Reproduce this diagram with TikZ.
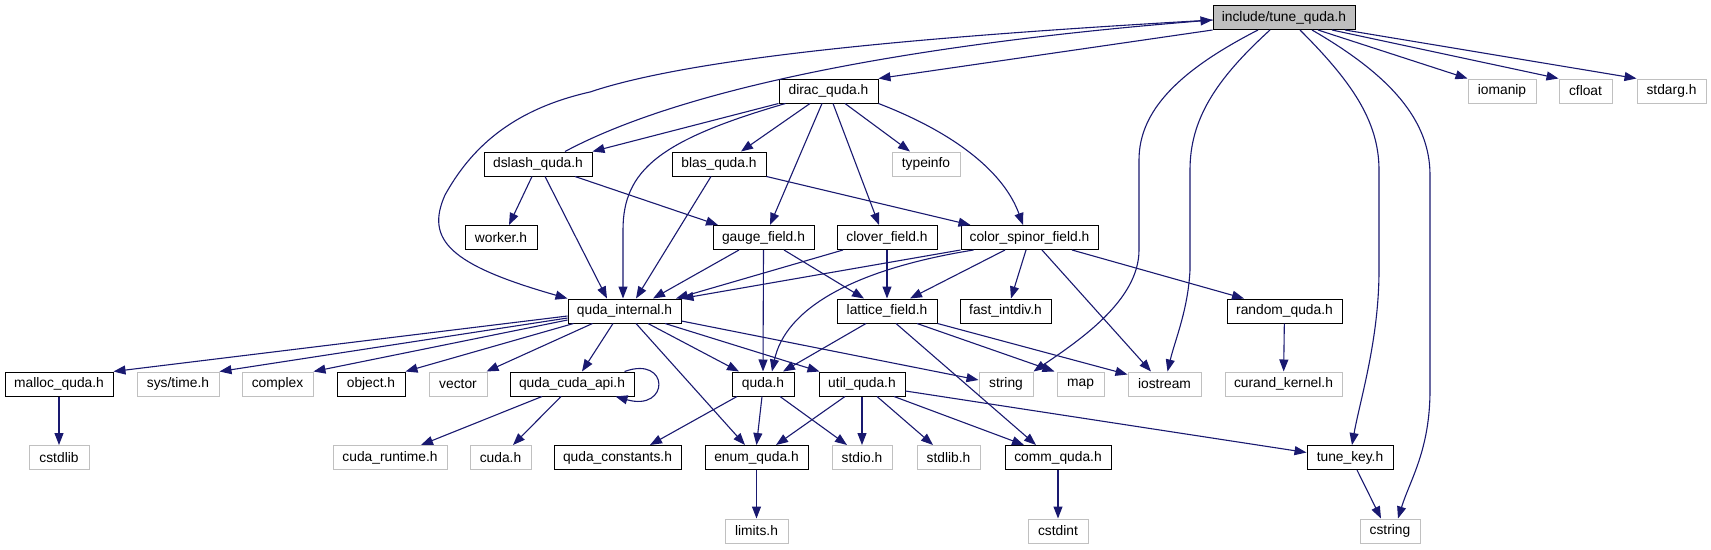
\documentclass[tikz,border=0pt]{standalone}
\usepackage{fontspec}
\setmainfont{Liberation Sans}
\usetikzlibrary{arrows.meta}
\definecolor{edgec}{HTML}{191970}
\definecolor{grayb}{HTML}{C0C0C0}
\definecolor{fillg}{HTML}{BFBFBF}
\begin{document}
\begin{tikzpicture}[x=1pt,y=1pt,
  box/.style={draw=black, line width=1pt, rectangle, minimum height=24pt, inner sep=0pt, font=\fontsize{13.8}{16}\selectfont},
  ext/.style={box, draw=grayb},
  arr/.style={draw=edgec, line width=1.1pt, -{Triangle[length=12pt,width=9pt]}}]
\useasboundingbox (0,0) rectangle (1711,-549);
% row 0
\node[box, fill=fillg, minimum width=142pt] (T) at (1284,-17.5) {include/tune\_quda.h};
% row 1
\node[box, minimum width=99pt] (D) at (828.5,-91) {dirac\_quda.h};
\node[ext, minimum width=68pt] (iom) at (1502,-91) {iomanip};
\node[ext, minimum width=53pt] (cfl) at (1585.5,-91) {cfloat};
\node[ext, minimum width=69pt] (sta) at (1671.5,-91) {stdarg.h};
% row 2
\node[box, minimum width=108pt] (S) at (538,-164) {dslash\_quda.h};
\node[box, minimum width=94pt] (B) at (719,-164) {blas\_quda.h};
\node[ext, minimum width=68pt] (typ) at (926,-164) {typeinfo};
% row 3
\node[box, minimum width=72pt] (wrk) at (501,-237.5) {worker.h};
\node[box, minimum width=101pt] (G) at (763.5,-237.5) {gauge\_field.h};
\node[box, minimum width=100pt] (C) at (887,-237.5) {clover\_field.h};
\node[box, minimum width=137pt] (CS) at (1029.5,-237.5) {color\_spinor\_field.h};
% row 4
\node[box, minimum width=113pt] (Q) at (624.5,-311) {quda\_internal.h};
\node[box, minimum width=100pt] (L) at (887,-311) {lattice\_field.h};
\node[box, minimum width=91pt] (fid) at (1005.5,-311) {fast\_intdiv.h};
\node[box, minimum width=115pt] (rnd) at (1284.5,-311) {random\_quda.h};
% row 5
\node[box, minimum width=108pt] (mal) at (59,-384) {malloc\_quda.h};
\node[ext, minimum width=82pt] (syt) at (178,-384) {sys/time.h};
\node[ext, minimum width=71pt] (cpx) at (277.5,-384) {complex};
\node[box, minimum width=68pt] (obj) at (371,-384) {object.h};
\node[ext, minimum width=58pt] (vec) at (458,-384) {vector};
\node[box, minimum width=124pt] (A) at (572,-384) {quda\_cuda\_api.h};
\node[box, minimum width=62pt] (QH) at (763,-384) {quda.h};
\node[box, minimum width=86pt] (U) at (862,-384) {util\_quda.h};
\node[ext, minimum width=54pt] (str) at (1006,-384) {string};
\node[ext, minimum width=47pt] (map) at (1080.5,-384) {map};
\node[ext, minimum width=73pt] (ios) at (1164.5,-384) {iostream};
\node[ext, minimum width=117pt] (cur) at (1283.5,-384) {curand\_kernel.h};
% row 6
\node[ext, minimum width=60pt] (csl) at (59,-457.5) {cstdlib};
\node[ext, minimum width=114pt] (crt) at (390,-457.5) {cuda\_runtime.h};
\node[ext, minimum width=61pt] (cuh) at (500.5,-457.5) {cuda.h};
\node[box, minimum width=127pt] (qc) at (617.5,-457.5) {quda\_constants.h};
\node[box, minimum width=103pt] (enm) at (756.5,-457.5) {enum\_quda.h};
\node[ext, minimum width=60pt] (sio) at (862,-457.5) {stdio.h};
\node[ext, minimum width=63pt] (slb) at (948.5,-457.5) {stdlib.h};
\node[box, minimum width=106pt] (com) at (1058,-457.5) {comm\_quda.h};
\node[box, minimum width=86pt] (tk) at (1350,-457.5) {tune\_key.h};
% row 7
\node[ext, minimum width=63pt] (lim) at (756.5,-531) {limits.h};
\node[ext, minimum width=60pt] (cst) at (1058,-531) {cstdint};
\node[ext, minimum width=60pt] (cstr) at (1390,-531) {cstring};

% edges from tune_quda
\draw[arr] (T.south west) -- (D.north east);
\draw[arr] ([xshift=34pt]T.south) -- (iom.north west);
\draw[arr] ([xshift=48pt]T.south) -- (cfl.north west);
\draw[arr] ([xshift=61pt]T.south) -- (sta.north west);
\draw[arr] ([xshift=-26pt]T.south) .. controls (1180,-70) and (1139,-110) .. (1139,-160) -- (1139,-250) .. controls (1139,-300) and (1080,-340) .. (str.north east);
\draw[arr] ([xshift=-14pt]T.south) .. controls (1215,-80) and (1190,-120) .. (1190,-170) -- (1190,-270) .. controls (1188,-310) and (1175,-340) .. ([xshift=3pt]ios.north);
\draw[arr] ([xshift=16pt]T.south) .. controls (1350,-80) and (1379,-120) .. (1379,-170) -- (1379,-270) .. controls (1379,-340) and (1360,-400) .. ([xshift=2pt]tk.north);
\draw[arr] ([xshift=28pt]T.south) .. controls (1390,-75) and (1430,-120) .. (1430,-175) -- (1430,-390) .. controls (1430,-450) and (1410,-480) .. ([xshift=8pt]cstr.north);
\draw[arr] ([yshift=-2.5pt]T.west) .. controls (950,-35) and (700,-55) .. (590,-92) .. controls (510,-110) and (470,-150) .. (445,-195) .. controls (425,-240) and (450,-265) .. (Q.north west);
% into tune_quda
\draw[arr] ([xshift=27pt]S.north) .. controls (680,-90) and (900,-45) .. ([yshift=-2.5pt]T.west);
% dirac
\draw[arr] (D.south west) -- (S.north east);
\draw[arr] ([xshift=-43pt]D.south) .. controls (660,-140) and (623,-170) .. (623,-230) -- ([xshift=-1.5pt]Q.north);
\draw[arr] ([xshift=-18.5pt]D.south) -- ([xshift=22pt]B.north);
\draw[arr] ([xshift=-6.5pt]D.south) -- ([xshift=6.5pt]G.north);
\draw[arr] ([xshift=4.5pt]D.south) -- ([xshift=-8pt]C.north);
\draw[arr] ([xshift=16.5pt]D.south) -- ([xshift=-16pt]typ.north);
\draw[arr] (D.south east) .. controls (960,-135) and (1005,-175) .. ([xshift=-6.5pt]CS.north);
% dslash
\draw[arr] ([xshift=-6pt]S.south) -- ([xshift=8pt]wrk.north);
\draw[arr] ([xshift=7pt]S.south) -- ([xshift=-17.5pt]Q.north);
\draw[arr] ([xshift=37pt]S.south) -- ([xshift=-45.5pt]G.north);
% blas
\draw[arr] ([xshift=-8pt]B.south) -- ([xshift=11.5pt]Q.north);
\draw[arr] (B.south east) -- ([xshift=10pt]CS.north west);
% gauge
\draw[arr] ([xshift=-24.5pt]G.south) -- ([xshift=28.5pt]Q.north);
\draw[arr] (G.south) -- (QH.north);
\draw[arr] ([xshift=20.5pt]G.south) -- ([xshift=-23pt]L.north);
% clover
\draw[arr] ([xshift=-44pt]C.south) -- ([xshift=51.5pt]Q.north);
\draw[arr] (C.south) -- (L.north);
% color spinor
\draw[arr] (CS.south west) -- (Q.north east);
\draw[arr] ([xshift=-56pt]CS.south) .. controls (850,-270) and (785,-310) .. ([xshift=9pt]QH.north);
\draw[arr] ([xshift=-24.5pt]CS.south) -- ([xshift=23pt]L.north);
\draw[arr] ([xshift=-3.5pt]CS.south) -- ([xshift=5.5pt]fid.north);
\draw[arr] ([xshift=12.5pt]CS.south) -- ([xshift=-13.5pt]ios.north);
\draw[arr] ([xshift=42.5pt]CS.south) -- ([xshift=-40.5pt]rnd.north);
% quda_internal
\draw[arr] ([yshift=-5pt]Q.west) -- (mal.north east);
\draw[arr] ([yshift=-7pt]Q.west) -- (syt.north east);
\draw[arr] ([yshift=-9pt]Q.west) -- (cpx.north east);
\draw[arr] ([xshift=6pt]Q.south west) -- (obj.north east);
\draw[arr] ([xshift=25pt]Q.south west) -- ([xshift=-1pt]vec.north east);
\draw[arr] ([xshift=-11.5pt]Q.south) -- ([xshift=10pt]A.north);
\draw[arr] ([xshift=23.5pt]Q.south) -- ([xshift=-24pt]QH.north);
\draw[arr] ([xshift=40.5pt]Q.south) -- ([xshift=1pt]U.north west);
\draw[arr] ([xshift=11.5pt]Q.south) -- ([xshift=-11.5pt]enm.north);
\draw[arr] ([yshift=-10pt]Q.east) -- ([yshift=4pt]str.west);
% lattice
\draw[arr] ([xshift=-21pt]L.south) -- ([xshift=20pt]QH.north);
\draw[arr] ([xshift=30pt]L.south) -- ([xshift=-2pt]map.north west);
\draw[arr] (L.south east) -- ([yshift=-3pt]ios.north west);
\draw[arr] ([xshift=9pt]L.south) -- ([xshift=-22pt]com.north);
% quda_cuda_api
\draw[arr] ([xshift=-10pt]A.north east) .. controls (670,-355) and (670,-412) .. ([xshift=-19pt]A.south east);
\draw[arr] ([xshift=-30pt]A.south) -- ([xshift=31pt]crt.north);
\draw[arr] ([xshift=-11pt]A.south) -- ([xshift=12.5pt]cuh.north);
% quda.h
\draw[arr] ([xshift=-26pt]QH.south) -- ([xshift=32.5pt]qc.north);
\draw[arr] ([xshift=-1pt]QH.south) -- (enm.north);
\draw[arr] ([xshift=17pt]QH.south) -- ([xshift=-15pt]sio.north);
% util
\draw[arr] ([xshift=-17pt]U.south) -- ([xshift=19.5pt]enm.north);
\draw[arr] (U.south) -- (sio.north);
\draw[arr] ([xshift=15pt]U.south) -- ([xshift=-15.5pt]slb.north);
\draw[arr] ([xshift=32pt]U.south) -- ([xshift=-34pt]com.north);
\draw[arr] ([yshift=-7pt]U.east) -- ([yshift=5pt]tk.west);
% leaves
\draw[arr] (mal) -- (csl);
\draw[arr] (rnd) -- (cur);
\draw[arr] (enm) -- (lim);
\draw[arr] (com) -- (cst);
\draw[arr] ([xshift=7pt]tk.south) -- ([xshift=-9pt]cstr.north);
\end{tikzpicture}
\end{document}
